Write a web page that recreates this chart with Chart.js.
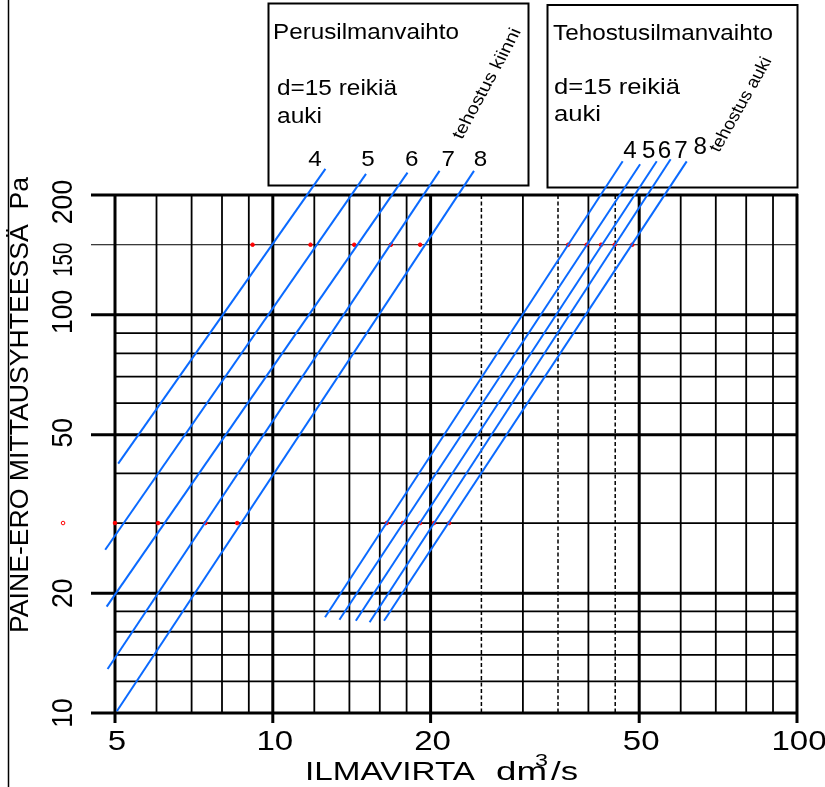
<!DOCTYPE html>
<html>
<head>
<meta charset="utf-8">
<title>Paine-ero / ilmavirta</title>
<script src="https://cdn.jsdelivr.net/npm/chart.js@4.4.1/dist/chart.umd.min.js"></script>
<style>
  html, body { margin: 0; padding: 0; background: #fff; }
  #wrap { width: 825px; height: 787px; }
</style>
</head>
<body>
<div id="wrap"><canvas id="chart" width="825" height="787"></canvas></div>
<script>
// ── Data ──────────────────────────────────────────────────────────────

const lineLabels = ['4', '5', '6', '7', '8'];

// Perusilmanvaihto, tehostus kiinni: line ends [dm3/s, Pa]
const perusStartQ = [5.07, 4.79, 4.82, 4.84, 5.04];
const perusStartP = [42.3, 25.7, 18.5, 12.9, 10.1];
const perusEndQ   = [12.6, 15.06, 18.07, 20.8, 24.2];
const perusEndP   = [232.6, 226, 227.7, 230, 230];

// Tehostusilmanvaihto, tehostus auki
const tehoStartQ = [12.58, 13.4, 14.4, 15.3, 16.3];
const tehoStartP = [17.4, 17.15, 17.05, 16.9, 17.05];
const tehoEndQ   = [46.5, 50.2, 54.0, 57.4, 61.6];
const tehoEndP   = [243, 239, 243, 246, 243];

// red marker dots
const dots150Q = [9.15, 11.8, 14.3, 16.8, 19.1, 36.6, 39.7, 42.3, 44.9, 48.5];
const dots30Q  = [3.98, 5.0, 6.04, 7.44, 8.55, 16.5, 17.7, 19.1, 20.3, 21.7];

// grid
const xMajor  = [5, 10, 20, 50, 100];
const xMinor  = [6, 7, 8, 9, 12, 14, 16, 18, 30, 40, 60, 70, 80, 90];
const xDashed = [25, 35, 45];
const yMajor  = [10, 20, 50, 100, 200];
const yMinor  = [12, 14, 16, 18, 30, 40, 60, 70, 80, 90];
const yFine   = [150];

// tick labels
const xTicks = [5, 10, 20, 50, 100];
const yTicks = [10, 20, 50, 100, 150, 200];

const FONT  = '"Liberation Sans", Arial, sans-serif';
const BLUE  = '#0a6aff';
const RED   = '#ff0000';

// ── Helpers ───────────────────────────────────────────────────────────

function segment(q0, p0, q1, p1) {
    return [{ x: q0, y: p0 }, { x: q1, y: p1 }];
}

function drawText(ctx, s, x, y, o) {
    ctx.save();
    ctx.translate(x, y);
    ctx.scale(o.sx || 1, 1);
    ctx.rotate((o.rot || 0) * Math.PI / 180);
    ctx.font = (o.style ? o.style + ' ' : '') + o.size + 'px ' + FONT;
    ctx.textAlign = o.align || 'left';
    ctx.textBaseline = 'alphabetic';
    if (o.len) {
        const w = ctx.measureText(s).width;
        ctx.scale(o.len / w, 1);
    }
    ctx.fillStyle = '#000';
    ctx.fillText(s, 0, 0);
    ctx.restore();
}

function stroke(ctx, x0, y0, x1, y1, w, dash) {
    ctx.save();
    ctx.beginPath();
    ctx.lineWidth = w;
    ctx.strokeStyle = '#000';
    ctx.setLineDash(dash || []);
    ctx.moveTo(x0, y0);
    ctx.lineTo(x1, y1);
    ctx.stroke();
    ctx.restore();
}

// ── Datasets ──────────────────────────────────────────────────────────

const datasets = [];

lineLabels.forEach((lab, i) => {
    datasets.push({
        label: 'perus ' + lab,
        data: segment(perusStartQ[i], perusStartP[i], perusEndQ[i], perusEndP[i]),
        showLine: true, borderColor: BLUE, borderWidth: 2, pointRadius: 0, clip: false,
    });
    datasets.push({
        label: 'teho ' + lab,
        data: segment(tehoStartQ[i], tehoStartP[i], tehoEndQ[i], tehoEndP[i]),
        showLine: true, borderColor: BLUE, borderWidth: 2, pointRadius: 0, clip: false,
    });
});

const dotPoints = dots150Q.map(q => ({ x: q, y: 150 })).concat(dots30Q.map(q => ({ x: q, y: 30 })));

datasets.push({
    label: 'pisteet',
    data: dotPoints,
    showLine: false, pointRadius: 1.8, pointBorderWidth: 1,
    pointBackgroundColor: RED, pointBorderColor: RED, clip: false,
});

// ── Paper: grid, frames and text ──────────────────────────────────────

const paper = {
    id: 'paper',
    beforeDraw(chart) {
        const ctx = chart.ctx;
        ctx.save();
        ctx.fillStyle = '#fff';
        ctx.fillRect(0, 0, chart.width, chart.height);
        ctx.restore();
    },
    beforeDatasetsDraw(chart) {
        const ctx = chart.ctx;
        const xs = chart.scales.x, ys = chart.scales.y;
        const L = xs.getPixelForValue(5), R = xs.getPixelForValue(100);
        const T = ys.getPixelForValue(200), B = ys.getPixelForValue(10);

        // left page rule
        stroke(ctx, 8.5, 0, 8.5, chart.height, 1.5);

        // boxes
        ctx.save();
        ctx.lineWidth = 2;
        ctx.strokeStyle = '#000';
        ctx.strokeRect(268.5, 3.5, 260, 182);
        ctx.strokeRect(547.5, 5, 250, 182.5);
        ctx.restore();

        xMinor.forEach(v => { const p = xs.getPixelForValue(v); stroke(ctx, p, T, p, B, 1.8); });
        xDashed.forEach(v => { const p = xs.getPixelForValue(v); stroke(ctx, p, T, p, B, 1.5, [4, 2.5]); });
        yMinor.forEach(v => { const p = ys.getPixelForValue(v); stroke(ctx, L, p, R, p, 1.8); });
        yFine.forEach(v => { const p = ys.getPixelForValue(v); stroke(ctx, L - 24, p, R, p, 1); });
        yMajor.forEach(v => { const p = ys.getPixelForValue(v); stroke(ctx, L - 24, p, R + 1, p, 3); });
        xMajor.forEach(v => { const p = xs.getPixelForValue(v); stroke(ctx, p, T - 1, p, B + 10, 3); });
    },
    afterDatasetsDraw(chart) {
        // Chart.js skips points outside the chart area; draw those through the scales here
        const ctx = chart.ctx;
        const xs = chart.scales.x, ys = chart.scales.y;
        const a = chart.chartArea;
        dotPoints.forEach(d => {
            const px = xs.getPixelForValue(d.x), py = ys.getPixelForValue(d.y);
            if (px >= a.left - 2 && px <= a.right + 2) return;
            ctx.save();
            ctx.beginPath();
            ctx.arc(px, py, 1.8, 0, Math.PI * 2);
            ctx.strokeStyle = RED;
            ctx.lineWidth = 1;
            ctx.stroke();
            ctx.restore();
        });
    },
    afterDraw(chart) {
        const ctx = chart.ctx;
        const xs = chart.scales.x, ys = chart.scales.y;

        // x tick labels
        xTicks.forEach(v => {
            drawText(ctx, String(v), xs.getPixelForValue(v) + 2, 750, { size: 28, sx: 1.18, align: 'center' });
        });

        // y tick labels (rotated)
        const yShift = { 200: 7, 150: 15, 100: -3, 50: -2 };
        yTicks.forEach(v => {
            const s = String(v);
            const small = v === 150;
            drawText(ctx, s, 71.5, ys.getPixelForValue(v) + (yShift[v] || 0), {
                size: small ? 27 : 30, rot: -90, align: 'center',
                len: small ? 34 : s.length * 14.8,
            });
        });

        // axis titles
        drawText(ctx, 'PAINE-ERO MITTAUSYHTEESSÄ  Pa', 28, 633, { size: 25, rot: -90, len: 456 });
        drawText(ctx, 'ILMAVIRTA', 305, 780, { size: 25, len: 170 });
        drawText(ctx, 'dm', 496, 780, { size: 25, len: 51 });
        drawText(ctx, '3', 535, 766, { size: 17, len: 13 });
        drawText(ctx, '/s', 551, 780, { size: 25, len: 27 });

        // box 1: Perusilmanvaihto
        drawText(ctx, 'Perusilmanvaihto', 273, 39, { size: 22, len: 186 });
        drawText(ctx, 'd=15 reikiä', 277, 95, { size: 22, len: 120 });
        drawText(ctx, 'auki', 277, 123, { size: 22, len: 45 });
        [315, 368, 411.7, 448.3, 480.5].forEach((cx, i) => {
            drawText(ctx, lineLabels[i], cx, 165.5, { size: 22, sx: 1.1, align: 'center' });
        });
        drawText(ctx, 'tehostus kiinni', 462, 140, { size: 16, sx: 1.12, rot: -64, len: 121 });

        // box 2: Tehostusilmanvaihto
        drawText(ctx, 'Tehostusilmanvaihto', 553, 40, { size: 22, len: 220 });
        drawText(ctx, 'd=15 reikiä', 554, 94, { size: 22, len: 126 });
        drawText(ctx, 'auki', 554, 121, { size: 22, len: 47 });
        [630, 648.7, 664.5, 681, 700.3].forEach((cx, i) => {
            drawText(ctx, lineLabels[i], cx, i === 4 ? 154 : 158, { size: 23, sx: 1.05, align: 'center' });
        });
        drawText(ctx, 'tehostus auki', 719, 153, { size: 16, sx: 1.12, rot: -63, len: 104 });
    },
};

// ── Chart ─────────────────────────────────────────────────────────────

new Chart(document.getElementById('chart'), {
    type: 'scatter',
    data: { datasets },
    options: {
        responsive: false,
        animation: false,
        events: [],
        layout: { padding: { left: 115, right: 28, top: 195, bottom: 74 } },
        plugins: { legend: { display: false }, tooltip: { enabled: false } },
        scales: {
            x: { type: 'logarithmic', min: 5, max: 100, display: false },
            y: { type: 'logarithmic', min: 10, max: 200, display: false },
        },
    },
    plugins: [paper],
});
</script>
</body>
</html>
